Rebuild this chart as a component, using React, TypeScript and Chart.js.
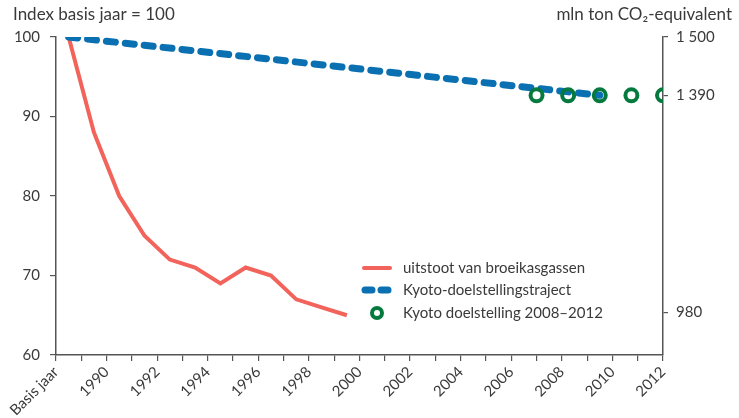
import React, { useEffect, useRef } from "react";
import { Chart, registerables } from "chart.js";

Chart.register(...registerables);

// ---- data ----
const BASE_LABEL = "Basis jaar";
const BASE_YEAR = 1988; // axis position of the "Basis jaar" tick
const LAST_YEAR = 2012;

const emissionYears = [BASE_LABEL, "1990", "1991", "1992", "1993", "1994", "1995", "1996", "1997", "1998", "1999", "2000"];
const emissionIndex = [100, 88, 80, 75, 72, 71, 69, 71, 70, 67, 66, 65];

const trajectYears = [BASE_LABEL, "2010"];
const trajectValues = [1500, 1390]; // mln ton CO2-eq

const targetPositions = [2007, 2008.25, 2009.5, 2010.75, 2012];
const targetValues = [1390, 1390, 1390, 1390, 1390];

const leftTicks = [60, 70, 80, 90, 100];
const rightTicks = [1500, 1390, 980];

const seriesLabels = ["uitstoot van broeikasgassen", "Kyoto-doelstellingstraject", "Kyoto doelstelling 2008–2012"];
const leftTitle = "Index basis jaar = 100";
const rightTitle = "mln ton CO₂-equivalent";

// ---- styles ----
const RED = "#F2635B";
const BLUE = "#0A70B2";
const GREEN = "#067A3E";
const TEXT = "#3a3a3a";
const AXIS = "#555555";
const FONT = "Lato";

// year label -> position on the year axis (each year occupies the slot ending at its tick)
const yearPos = (label: string) => (label === BASE_LABEL ? BASE_YEAR + 0.5 : Number(label) - 0.5);

const fmtThousands = (v: number) => {
  const s = String(Math.round(v));
  return s.replace(/\B(?=(\d{3})+(?!\d))/g, " ");
};

const overlayPlugin = {
  id: "overlay",
  afterDraw(chart: any) {
    const ctx = chart.ctx as CanvasRenderingContext2D;
    ctx.save();
    ctx.fillStyle = TEXT;
    ctx.font = `17px ${FONT}`;
    ctx.textBaseline = "middle";
    ctx.textAlign = "left";
    ctx.fillText(leftTitle, 13, 15);
    ctx.textAlign = "right";
    ctx.fillText(rightTitle, 732, 15);

    // legend
    const lx = 362;
    const ys = [268, 290, 313];
    const ds = chart.data.datasets;
    ctx.lineCap = "round";
    // red line
    ctx.strokeStyle = ds[0].borderColor;
    ctx.lineWidth = 4;
    ctx.beginPath();
    ctx.moveTo(lx + 2, ys[0]);
    ctx.lineTo(lx + 28, ys[0]);
    ctx.stroke();
    // blue dashed
    ctx.strokeStyle = ds[1].borderColor;
    ctx.lineWidth = 7;
    ctx.beginPath();
    ctx.moveTo(lx + 3, ys[1]);
    ctx.lineTo(lx + 10, ys[1]);
    ctx.moveTo(lx + 19, ys[1]);
    ctx.lineTo(lx + 26, ys[1]);
    ctx.stroke();
    // green circle
    ctx.strokeStyle = ds[2].borderColor;
    ctx.lineWidth = 4;
    ctx.beginPath();
    ctx.arc(lx + 15, ys[2], 5, 0, Math.PI * 2);
    ctx.stroke();

    ctx.fillStyle = TEXT;
    ctx.textAlign = "left";
    ctx.font = `15px ${FONT}`;
    ds.forEach((d: any, i: number) => {
      ctx.fillText(d.label, 403, ys[i]);
    });
    ctx.restore();
  },
};

export default function App() {
  const ref = useRef<HTMLCanvasElement | null>(null);

  useEffect(() => {
    document.body.style.margin = "0";
    const canvas = ref.current;
    if (!canvas) return;

    const chart = new Chart(canvas, {
      type: "line",
      data: {
        datasets: [
          {
            label: seriesLabels[0],
            data: emissionYears.map((y, i) => ({ x: yearPos(y), y: emissionIndex[i] })),
            borderColor: RED,
            backgroundColor: RED,
            borderWidth: 4,
            pointRadius: 0,
            tension: 0,
            yAxisID: "y",
            order: 3,
          },
          {
            label: seriesLabels[1],
            data: trajectYears.map((y, i) => ({ x: yearPos(y), y: trajectValues[i] })),
            borderColor: BLUE,
            backgroundColor: BLUE,
            borderWidth: 7,
            borderDash: [9, 10],
            borderCapStyle: "round",
            pointRadius: 0,
            yAxisID: "y2",
            order: 2,
          },
          {
            label: seriesLabels[2],
            data: targetPositions.map((p, i) => ({ x: p, y: targetValues[i] })),
            borderColor: GREEN,
            backgroundColor: "rgba(255,255,255,0)",
            showLine: false,
            pointRadius: 6,
            pointBorderWidth: 4,
            pointHoverRadius: 6,
            pointStyle: "circle",
            yAxisID: "y2",
            order: 1,
          },
        ],
      },
      options: {
        animation: false,
        responsive: false,
        maintainAspectRatio: false,
        layout: { padding: { top: 37, left: 0, right: 0, bottom: 0 } },
        plugins: { legend: { display: false }, tooltip: { enabled: false } },
        scales: {
          x: {
            type: "linear",
            min: BASE_YEAR,
            max: LAST_YEAR,
            afterBuildTicks: (scale: any) => {
              const t = [];
              for (let v = BASE_YEAR; v <= LAST_YEAR; v++) t.push({ value: v });
              scale.ticks = t;
            },
            afterFit: (scale: any) => {
              scale.height = 63;
              scale.paddingLeft = 0;
              scale.paddingRight = 0;
            },
            ticks: {
              autoSkip: false,
              minRotation: 45,
              maxRotation: 45,
              padding: 2,
              color: TEXT,
              font: { family: FONT, size: 15 },
              callback: (v: any) => {
                const n = Number(v);
                if (n === BASE_YEAR) return BASE_LABEL;
                return n % 2 === 0 ? String(n) : "";
              },
            },
            grid: { drawOnChartArea: false, drawTicks: true, tickLength: 6, color: AXIS, lineWidth: 1.2 },
            border: { display: true, color: AXIS, width: 1.5 },
          },
          y: {
            type: "linear",
            position: "left",
            min: leftTicks[0],
            max: leftTicks[leftTicks.length - 1],
            afterBuildTicks: (scale: any) => {
              scale.ticks = leftTicks.map((v) => ({ value: v }));
            },
            afterFit: (scale: any) => {
              scale.width = 56;
              scale.paddingTop = 0;
              scale.paddingBottom = 0;
            },
            ticks: {
              padding: 10,
              color: TEXT,
              font: { family: FONT, size: 15 },
            },
            grid: { drawOnChartArea: false, drawTicks: true, tickLength: 6, color: AXIS, lineWidth: 1.2 },
            border: { display: true, color: AXIS, width: 1.5 },
          },
          y2: {
            type: "linear",
            position: "right",
            min: 900,
            max: 1500,
            afterBuildTicks: (scale: any) => {
              scale.ticks = rightTicks.map((v) => ({ value: v }));
            },
            afterFit: (scale: any) => {
              scale.width = 76;
              scale.paddingTop = 0;
              scale.paddingBottom = 0;
            },
            ticks: {
              padding: 8,
              color: TEXT,
              font: { family: FONT, size: 15 },
              callback: (v: any) => fmtThousands(Number(v)),
            },
            grid: { drawOnChartArea: false, drawTicks: true, tickLength: 5, color: AXIS, lineWidth: 1.2 },
            border: { display: true, color: AXIS, width: 1.5 },
          },
        },
      },
      plugins: [overlayPlugin],
    } as any);

    return () => chart.destroy();
  }, []);

  return (
    <div style={{ width: 739, height: 418 }}>
      <canvas ref={ref} width={739} height={418} style={{ display: "block" }} />
    </div>
  );
}
